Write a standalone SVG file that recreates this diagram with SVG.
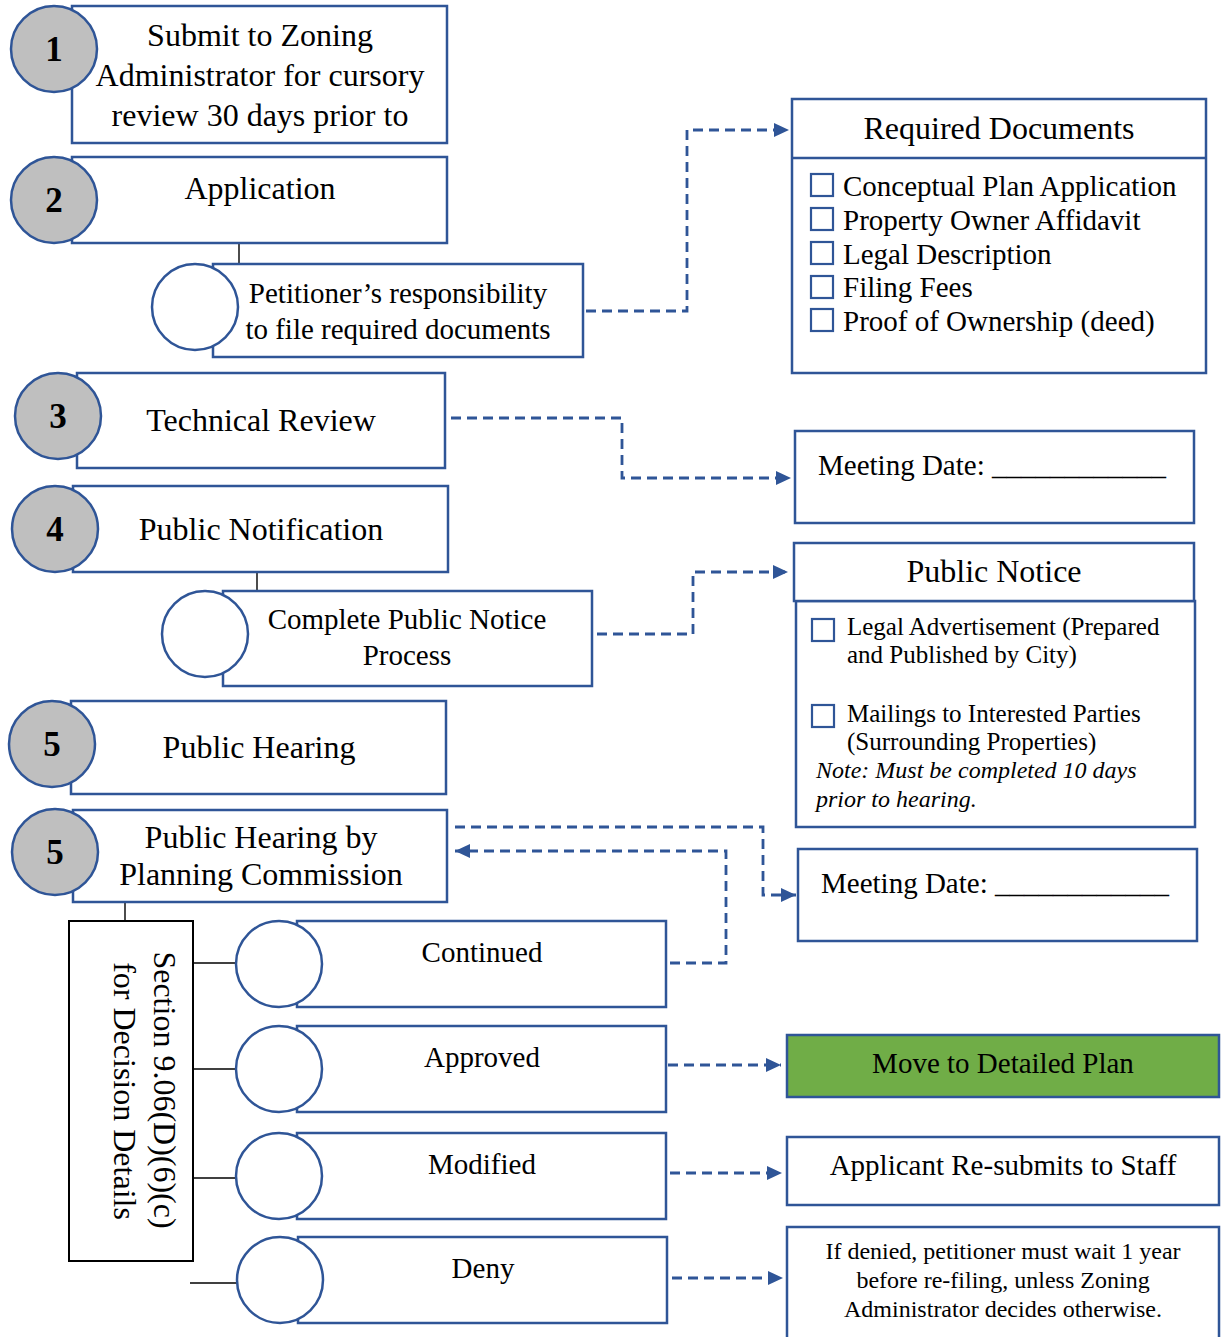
<svg xmlns="http://www.w3.org/2000/svg" width="1221" height="1337" viewBox="0 0 1221 1337">
<style>
.box{fill:#fff;stroke:#2F5597;stroke-width:2.5}
.num{fill:#BFBFBF;stroke:#2F5597;stroke-width:2.5}
.circ{fill:#fff;stroke:#2F5597;stroke-width:2.5}
.chk{fill:none;stroke:#2F5597;stroke-width:2.2}
text{font-family:"Liberation Serif","Times New Roman",serif;fill:#000}
.n{font-size:35px;font-weight:bold;text-anchor:middle}
.l{font-size:32px;text-anchor:middle}
.m{font-size:29px;text-anchor:middle}
.s{font-size:29px}
.p{font-size:25px}
.i{font-size:24px;font-style:italic}
.d{font-size:24px;text-anchor:middle}
.dash{fill:none;stroke:#2F5597;stroke-width:2.8;stroke-dasharray:10 6;marker-end:url(#arr)}
.link{fill:none;stroke:#000;stroke-width:1.4}
</style>
<defs>
<marker id="arr" markerUnits="userSpaceOnUse" markerWidth="15" markerHeight="14" refX="15" refY="7" orient="auto">
<path d="M0,0 L15,7 L0,14 z" fill="#2F5597"/>
</marker>
</defs>
<rect width="1221" height="1337" fill="#fff"/>

<g id="connectors">
<path class="link" d="M239,243 V264"/>
<path class="link" d="M257,572 V591"/>
<path class="link" d="M125,902 V922"/>
<path class="link" d="M193,963 H236"/>
<path class="link" d="M193,1069 H236"/>
<path class="link" d="M193,1178 H236"/>
<path class="link" d="M190,1283 H237"/>
<path class="dash" d="M586,311 H687 V130 H789"/>
<path class="dash" d="M451,418 H622 V478 H791"/>
<path class="dash" d="M597,634 H693 V572 H788"/>
<path class="dash" d="M455,827 H763 V895 H796"/>
<path class="dash" d="M670,963 H726 V851 H455"/>
<path class="dash" d="M668,1065 H781"/>
<path class="dash" d="M670,1173 H782"/>
<path class="dash" d="M672,1278 H783"/>
</g>

<g id="step1">
<rect class="box" x="72" y="6" width="375" height="137"/>
<circle class="num" cx="54" cy="49" r="43"/>
<text class="n" x="54" y="61">1</text>
<text class="l" x="260" y="46">Submit to Zoning</text>
<text class="l" x="260" y="86">Administrator for cursory</text>
<text class="l" x="260" y="126">review 30 days prior to</text>
</g>

<g id="step2">
<rect class="box" x="72" y="157" width="375" height="86"/>
<circle class="num" cx="54" cy="200" r="43"/>
<text class="n" x="54" y="212">2</text>
<text class="l" x="260" y="199">Application</text>
</g>

<g id="petitioner">
<rect class="box" x="213" y="264" width="370" height="93"/>
<circle class="circ" cx="195" cy="307" r="43"/>
<text class="m" x="398" y="303">Petitioner’s responsibility</text>
<text class="m" x="398" y="339">to file required documents</text>
</g>

<g id="required-docs">
<rect class="box" x="792" y="99" width="414" height="274"/>
<line x1="792" y1="158" x2="1206" y2="158" stroke="#2F5597" stroke-width="2.5"/>
<text class="l" x="999" y="139">Required Documents</text>
<rect class="chk" x="811" y="174" width="22" height="22"/>
<text class="s" x="843" y="196">Conceptual Plan Application</text>
<rect class="chk" x="811" y="208" width="22" height="22"/>
<text class="s" x="843" y="230">Property Owner Affidavit</text>
<rect class="chk" x="811" y="242" width="22" height="22"/>
<text class="s" x="843" y="264">Legal Description</text>
<rect class="chk" x="811" y="276" width="22" height="22"/>
<text class="s" x="843" y="297">Filing Fees</text>
<rect class="chk" x="811" y="309" width="22" height="22"/>
<text class="s" x="843" y="331">Proof of Ownership (deed)</text>
</g>

<g id="step3">
<rect class="box" x="77" y="373" width="368" height="95"/>
<circle class="num" cx="58" cy="416" r="43"/>
<text class="n" x="58" y="428">3</text>
<text class="l" x="261" y="431">Technical Review</text>
</g>

<g id="meeting1">
<rect class="box" x="795" y="431" width="399" height="92"/>
<text class="s" x="818" y="475">Meeting Date: ____________</text>
</g>

<g id="step4">
<rect class="box" x="73" y="486" width="375" height="86"/>
<circle class="num" cx="55" cy="529" r="43"/>
<text class="n" x="55" y="541">4</text>
<text class="l" x="261" y="540">Public Notification</text>
</g>

<g id="complete-notice">
<rect class="box" x="223" y="591" width="369" height="95"/>
<circle class="circ" cx="205" cy="634" r="43"/>
<text class="m" x="407" y="629">Complete Public Notice</text>
<text class="m" x="407" y="665">Process</text>
</g>

<g id="public-notice">
<rect class="box" x="796" y="601" width="399" height="226"/>
<rect class="box" x="794" y="543" width="400" height="58"/>
<text class="l" x="994" y="582">Public Notice</text>
<rect class="chk" x="812" y="619" width="22" height="22"/>
<text class="p" x="847" y="635">Legal Advertisement (Prepared</text>
<text class="p" x="847" y="663">and Published by City)</text>
<rect class="chk" x="812" y="705" width="22" height="22"/>
<text class="p" x="847" y="722">Mailings to Interested Parties</text>
<text class="p" x="847" y="750">(Surrounding Properties)</text>
<text class="i" x="816" y="778">Note: Must be completed 10 days</text>
<text class="i" x="816" y="807">prior to hearing.</text>
</g>

<g id="step5a">
<rect class="box" x="71" y="701" width="375" height="93"/>
<circle class="num" cx="52" cy="744" r="43"/>
<text class="n" x="52" y="756">5</text>
<text class="l" x="259" y="758">Public Hearing</text>
</g>

<g id="step5b">
<rect class="box" x="73" y="810" width="374" height="92"/>
<circle class="num" cx="55" cy="852" r="43"/>
<text class="n" x="55" y="864">5</text>
<text class="l" x="261" y="848">Public Hearing by</text>
<text class="l" x="261" y="885">Planning Commission</text>
</g>

<g id="meeting2">
<rect class="box" x="798" y="849" width="399" height="92"/>
<text class="s" x="821" y="893">Meeting Date: ____________</text>
</g>

<g id="section">
<rect x="69" y="921" width="124" height="340" fill="#fff" stroke="#000" stroke-width="2"/>
<text class="l" transform="translate(154,1090) rotate(90)">Section 9.06(D)(6)(c)</text>
<text class="l" transform="translate(114,1091) rotate(90)">for Decision Details</text>
</g>

<g id="continued">
<rect class="box" x="297" y="921" width="369" height="86"/>
<circle class="circ" cx="279" cy="964" r="43"/>
<text class="m" x="482" y="962">Continued</text>
</g>

<g id="approved">
<rect class="box" x="297" y="1026" width="369" height="86"/>
<circle class="circ" cx="279" cy="1069" r="43"/>
<text class="m" x="482" y="1067">Approved</text>
</g>

<g id="modified">
<rect class="box" x="297" y="1133" width="369" height="86"/>
<circle class="circ" cx="279" cy="1176" r="43"/>
<text class="m" x="482" y="1174">Modified</text>
</g>

<g id="deny">
<rect class="box" x="298" y="1237" width="369" height="86"/>
<circle class="circ" cx="280" cy="1280" r="43"/>
<text class="m" x="483" y="1278">Deny</text>
</g>

<g id="detailed-plan">
<rect x="787" y="1035" width="432" height="62" fill="#70AD47" stroke="#2F5597" stroke-width="2.5"/>
<text class="m" x="1003" y="1073">Move to Detailed Plan</text>
</g>

<g id="resubmit">
<rect class="box" x="787" y="1137" width="432" height="68"/>
<text class="m" x="1003" y="1175">Applicant Re-submits to Staff</text>
</g>

<g id="denied-note">
<rect class="box" x="787" y="1227" width="432" height="125"/>
<text class="d" x="1003" y="1259">If denied, petitioner must wait 1 year</text>
<text class="d" x="1003" y="1288">before re-filing, unless Zoning</text>
<text class="d" x="1003" y="1317">Administrator decides otherwise.</text>
</g>
</svg>
